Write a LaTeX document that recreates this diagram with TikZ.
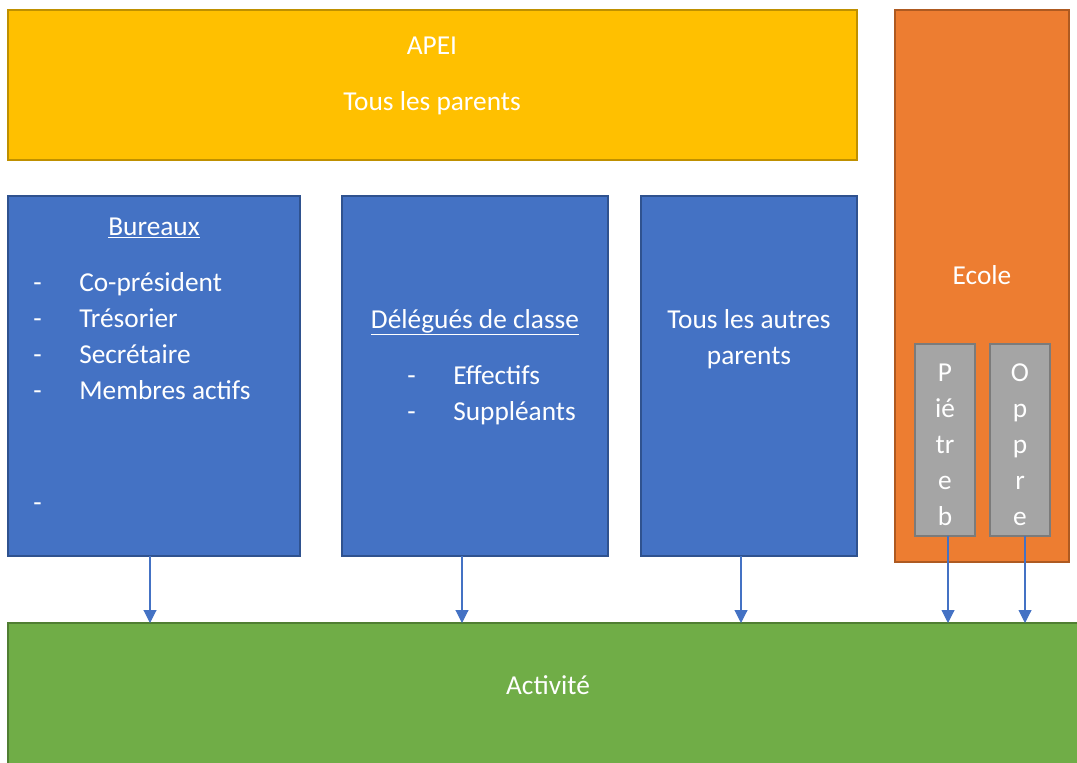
\documentclass[tikz,border=0pt]{standalone}
\usepackage{fontspec}
\setmainfont{Carlito}
\usetikzlibrary{arrows.meta,fit}
\definecolor{apeiF}{HTML}{FFC000}
\definecolor{apeiD}{HTML}{BF9000}
\definecolor{blueF}{HTML}{4472C4}
\definecolor{blueD}{HTML}{2F528F}
\definecolor{orF}{HTML}{ED7D31}
\definecolor{orD}{HTML}{AE5A21}
\definecolor{grF}{HTML}{A5A5A5}
\definecolor{grD}{HTML}{7B7B7B}
\definecolor{gnF}{HTML}{70AD47}
\definecolor{gnD}{HTML}{507E32}
\tikzset{
  box/.style={inner sep=0pt, outer sep=0pt, line width=1.2pt},
  apeibox/.style={box, fill=apeiF, draw=apeiD},
  bluebox/.style={box, fill=blueF, draw=blueD},
  orbox/.style={box, fill=orF, draw=orD},
  greybox/.style={box, fill=grF, draw=grD},
  greenbox/.style={box, fill=gnF, draw=gnD},
  txt/.style={text=white, inner sep=0pt, font=\fontsize{20.5pt}{24pt}\selectfont, anchor=base},
  ltxt/.style={txt, anchor=base west},
  arr/.style={draw=blueF, line width=0.8pt, -{Triangle[width=9.75pt,length=9.75pt]}},
}
\begin{document}
\begin{tikzpicture}[x=0.75pt,y=-0.75pt]
\clip (0,0) rectangle (1077,763);
\useasboundingbox (0,0) rectangle (1077,763);
% boxes
\node[apeibox, fit={(8,10) (857,160)}] (apei) {};
\node[orbox, fit={(895,10) (1069,562)}] (ecole) {};
\node[bluebox, fit={(8,196) (300,556)}] (bur) {};
\node[bluebox, fit={(342,196) (608,556)}] (del) {};
\node[bluebox, fit={(641,196) (857,556)}] (tous) {};
\node[greybox, fit={(915,344) (975,536)}] (pie) {};
\node[greybox, fit={(990,344) (1050,536)}] (opp) {};
\node[greenbox, fit={(8,623) (1090,780)}] (act) {};
% texts
\node[txt] (t-apei) at (432,55) {APEI};
\node[txt] (t-tlp) at (432,111) {Tous les parents};
\node[txt] (t-ecole) at (982,284) {Ecole};
\node[txt] (t-bur) at (154,235) {\underline{Bureaux}};
\node[ltxt] (d1) at (33,291) {-};
\node[ltxt] (d2) at (33,327) {-};
\node[ltxt] (d3) at (33,363) {-};
\node[ltxt] (d4) at (33,399) {-};
\node[ltxt] (d5) at (33,511) {-};
\node[ltxt] (b1) at (79,291) {Co-président};
\node[ltxt] (b2) at (79,327) {Trésorier};
\node[ltxt] (b3) at (79,363) {Secrétaire};
\node[ltxt] (b4) at (79,399) {Membres actifs};
\node[txt] (t-del) at (475,328) {\underline{Délégués de classe}};
\node[ltxt] (e1) at (407,384) {-};
\node[ltxt] (e2) at (407,420) {-};
\node[ltxt] (f1) at (453,384) {Effectifs};
\node[ltxt] (f2) at (453,420) {Suppléants};
\node[txt] (t-tous1) at (749,328) {Tous les autres};
\node[txt] (t-tous2) at (749,364) {parents};
\node[txt] (p1) at (945,381) {P};
\node[txt] (p2) at (945,417) {ié};
\node[txt] (p3) at (945,453) {tr};
\node[txt] (p4) at (945,489) {e};
\node[txt] (p5) at (945,525) {b};
\node[txt] (o1) at (1020,381) {O};
\node[txt] (o2) at (1020,417) {p};
\node[txt] (o3) at (1020,453) {p};
\node[txt] (o4) at (1020,489) {r};
\node[txt] (o5) at (1020,525) {e};
\node[txt] (t-act) at (548,694) {Activité};
% arrows
\draw[arr] ([xshift=-3pt]bur.south) -- ([xshift=-3pt]bur.south |- act.north);
\draw[arr] ([xshift=-9.75pt]del.south) -- ([xshift=-9.75pt]del.south |- act.north);
\draw[arr] ([xshift=-6pt]tous.south) -- ([xshift=-6pt]tous.south |- act.north);
\draw[arr] ([xshift=2.25pt]pie.south) -- ([xshift=2.25pt]pie.south |- act.north);
\draw[arr] ([xshift=3.75pt]opp.south) -- ([xshift=3.75pt]opp.south |- act.north);
\end{tikzpicture}
\end{document}
